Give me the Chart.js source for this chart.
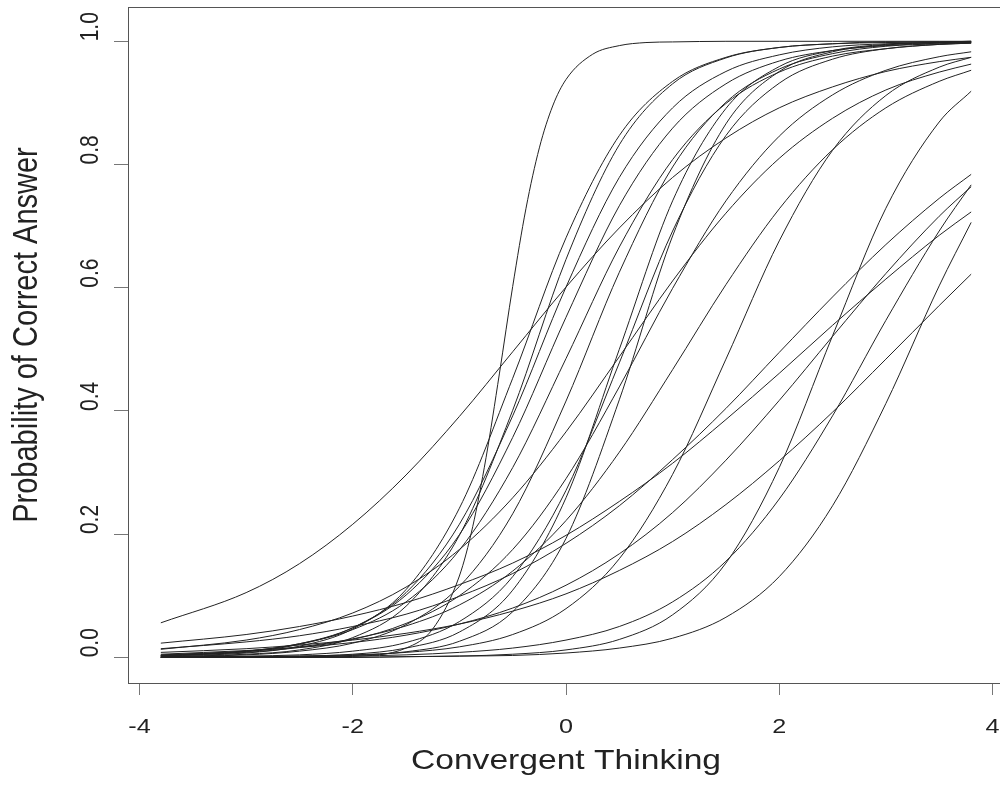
<!DOCTYPE html>
<html>
<head>
<meta charset="utf-8">
<title>Item characteristic curves</title>
<script src="https://cdn.jsdelivr.net/npm/chart.js@4.4.1/dist/chart.umd.min.js"></script>
<style>
  html, body { margin: 0; padding: 0; background: #fff; overflow: hidden; }
  #wrap { width: 1000px; height: 805px; overflow: hidden; }
</style>
</head>
<body>
<div id="wrap"><canvas id="icc" width="1010" height="805"></canvas></div>
<script>
// ability grid the curves were read at
const theta = [-3.8, -3, -2.5, -2, -1.5, -1, -0.5, 0, 0.5, 1, 1.5, 2, 2.5, 3, 3.5, 3.8];
// the very steep item needs a finer grid
const thetaSteep = [-3.8, -3, -2.5, -2, -1.5, -1.25, -1, -0.875, -0.75, -0.625, -0.5, -0.375, -0.25, -0.125, 0, 0.25, 0.5, 0.75, 1, 1.5, 2, 2.5, 3, 3.5, 3.8];

const item01 = [0, 0, 0, 0.0015, 0.015, 0.046, 0.132, 0.212, 0.324, 0.46, 0.602, 0.729, 0.827, 0.895, 0.938, 0.979, 0.993, 0.998, 0.999, 1, 1, 1, 1, 1, 1];

const item02 = [0.056, 0.105, 0.152, 0.216, 0.296, 0.391, 0.496, 0.601, 0.697, 0.779, 0.843, 0.892, 0.926, 0.951, 0.967, 0.974];
const item03 = [0.002, 0.007, 0.018, 0.046, 0.110, 0.242, 0.453, 0.681, 0.847, 0.935, 0.974, 0.990, 0.996, 0.998, 0.999, 1.0];
const item04 = [0.001, 0.005, 0.012, 0.032, 0.083, 0.198, 0.401, 0.646, 0.832, 0.931, 0.973, 0.990, 0.996, 0.999, 0.999, 1.0];
const item05 = [0.002, 0.009, 0.021, 0.048, 0.105, 0.216, 0.392, 0.601, 0.779, 0.892, 0.951, 0.978, 0.991, 0.996, 0.998, 0.999];
const item06 = [0.003, 0.010, 0.022, 0.048, 0.101, 0.199, 0.357, 0.552, 0.733, 0.859, 0.931, 0.968, 0.985, 0.993, 0.997, 0.998];
const item07 = [0.003, 0.010, 0.022, 0.045, 0.090, 0.174, 0.308, 0.485, 0.666, 0.808, 0.899, 0.950, 0.976, 0.988, 0.995, 0.997];
const item08 = [0.001, 0.004, 0.010, 0.023, 0.053, 0.115, 0.233, 0.416, 0.625, 0.796, 0.901, 0.955, 0.980, 0.992, 0.996, 0.998];
const item09 = [0.000, 0.001, 0.002, 0.005, 0.015, 0.041, 0.109, 0.259, 0.500, 0.741, 0.891, 0.959, 0.985, 0.995, 0.998, 0.999];
const item10 = [0.000, 0.002, 0.004, 0.010, 0.024, 0.058, 0.131, 0.271, 0.478, 0.692, 0.847, 0.932, 0.971, 0.988, 0.995, 0.997];
const item11 = [0.013, 0.028, 0.045, 0.072, 0.114, 0.175, 0.259, 0.366, 0.488, 0.611, 0.721, 0.810, 0.875, 0.921, 0.950, 0.963];
const item12 = [0.000, 0.000, 0.001, 0.003, 0.009, 0.026, 0.074, 0.193, 0.418, 0.684, 0.866, 0.951, 0.983, 0.994, 0.998, 0.999];
const item13 = [0.003, 0.008, 0.016, 0.029, 0.055, 0.100, 0.175, 0.290, 0.439, 0.599, 0.741, 0.846, 0.913, 0.953, 0.975, 0.983];
const item14 = [0.004, 0.010, 0.017, 0.030, 0.051, 0.085, 0.140, 0.222, 0.333, 0.467, 0.605, 0.728, 0.824, 0.892, 0.935, 0.953];
const item15 = [0.000, 0.001, 0.002, 0.004, 0.008, 0.017, 0.037, 0.079, 0.160, 0.297, 0.484, 0.676, 0.823, 0.912, 0.958, 0.974];
const item16 = [0.000, 0.000, 0.000, 0.000, 0.001, 0.002, 0.005, 0.012, 0.029, 0.069, 0.153, 0.308, 0.522, 0.729, 0.869, 0.919];
const item17 = [0.014, 0.025, 0.035, 0.050, 0.070, 0.099, 0.136, 0.185, 0.246, 0.321, 0.404, 0.495, 0.585, 0.670, 0.745, 0.784];
const item18 = [0.005, 0.011, 0.016, 0.024, 0.036, 0.054, 0.080, 0.117, 0.168, 0.235, 0.320, 0.417, 0.521, 0.623, 0.716, 0.764];
const item19 = [0.000, 0.001, 0.001, 0.002, 0.004, 0.008, 0.015, 0.028, 0.050, 0.090, 0.156, 0.257, 0.392, 0.547, 0.692, 0.767];
const item20 = [0.023, 0.037, 0.050, 0.067, 0.089, 0.118, 0.153, 0.198, 0.253, 0.315, 0.386, 0.461, 0.539, 0.614, 0.685, 0.723];
const item21 = [0.000, 0.000, 0.000, 0.000, 0.001, 0.002, 0.003, 0.007, 0.015, 0.031, 0.065, 0.131, 0.246, 0.412, 0.603, 0.706];
const item22 = [0.008, 0.014, 0.020, 0.028, 0.039, 0.054, 0.075, 0.103, 0.141, 0.188, 0.248, 0.319, 0.398, 0.484, 0.571, 0.622];

const items = [item02, item03, item04, item05, item06, item07, item08, item09, item10, item11,
  item12, item13, item14, item15, item16, item17, item18, item19, item20, item21, item22];

const xTicks = [-4, -2, 0, 2, 4];
const xTickLabels = ['-4', '-2', '0', '2', '4'];
const yTicks = [0, 0.2, 0.4, 0.6, 0.8, 1.0];
const yTickLabels = ['0.0', '0.2', '0.4', '0.6', '0.8', '1.0'];

const xTitle = 'Convergent Thinking';
const yTitle = 'Probability of Correct Answer';

function toPoints(xs, ys) {
  return ys.map((v, i) => ({ x: xs[i], y: v }));
}

const datasets = [{ data: toPoints(thetaSteep, item01) }]
  .concat(items.map(vals => ({ data: toPoints(theta, vals) })));

// text in the original is a little wider than it is tall
const stretch = 1.2;

function drawText(ctx, text, px, py, rot, align, font) {
  ctx.save();
  ctx.translate(px, py);
  ctx.scale(stretch, 1);
  ctx.rotate(rot);
  ctx.font = font;
  ctx.textAlign = align;
  ctx.textBaseline = 'alphabetic';
  ctx.fillText(text, 0, 0);
  ctx.restore();
}

const rStyle = {
  id: 'rStyle',
  afterDraw(chart) {
    const { ctx, chartArea: a, scales } = chart;
    ctx.save();
    ctx.strokeStyle = '#555';
    ctx.lineWidth = 1;
    ctx.strokeRect(Math.round(a.left) + 0.5, Math.round(a.top) + 0.5, Math.round(a.width), Math.round(a.height));
    ctx.fillStyle = '#222';

    const tickFont = '21px "Liberation Sans", Arial, sans-serif';
    const titleFont = '29px "Liberation Sans", Arial, sans-serif';

    xTicks.forEach((v, i) => {
      drawText(ctx, xTickLabels[i], scales.x.getPixelForValue(v), 733, 0, 'center', tickFont);
    });
    yTicks.forEach((v, i) => {
      drawText(ctx, yTickLabels[i], 98, scales.y.getPixelForValue(v), -Math.PI / 2, 'left', tickFont);
    });

    drawText(ctx, xTitle, scales.x.getPixelForValue(0), 769, 0, 'center', '28px "Liberation Sans", Arial, sans-serif');
    drawText(ctx, yTitle, 37, 335, -Math.PI / 2, 'center', titleFont);
    ctx.restore();
  }
};

const ctx = document.getElementById('icc').getContext('2d');
new Chart(ctx, {
  type: 'line',
  data: { datasets: datasets },
  options: {
    responsive: false,
    animation: false,
    devicePixelRatio: 1,
    layout: { padding: { top: 7, right: 6, left: 0, bottom: 0 } },
    elements: {
      point: { radius: 0 },
      line: { borderColor: '#222', borderWidth: 1, cubicInterpolationMode: 'monotone', fill: false }
    },
    plugins: { legend: { display: false }, tooltip: { enabled: false } },
    scales: {
      x: {
        type: 'linear',
        min: -4.108,
        max: 4.108,
        afterBuildTicks: s => { s.ticks = xTicks.map(v => ({ value: v })); },
        afterFit: s => { s.height = 122; },
        ticks: { display: false },
        border: { display: false },
        grid: { drawOnChartArea: false, drawTicks: true, tickLength: 12, color: '#777', lineWidth: 1 }
      },
      y: {
        type: 'linear',
        min: -0.0417,
        max: 1.0557,
        afterBuildTicks: s => { s.ticks = yTicks.map(v => ({ value: v })); },
        afterFit: s => { s.width = 128; },
        ticks: { display: false },
        border: { display: false },
        grid: { drawOnChartArea: false, drawTicks: true, tickLength: 14, color: '#777', lineWidth: 1 }
      }
    }
  },
  plugins: [rStyle]
});
</script>
</body>
</html>
